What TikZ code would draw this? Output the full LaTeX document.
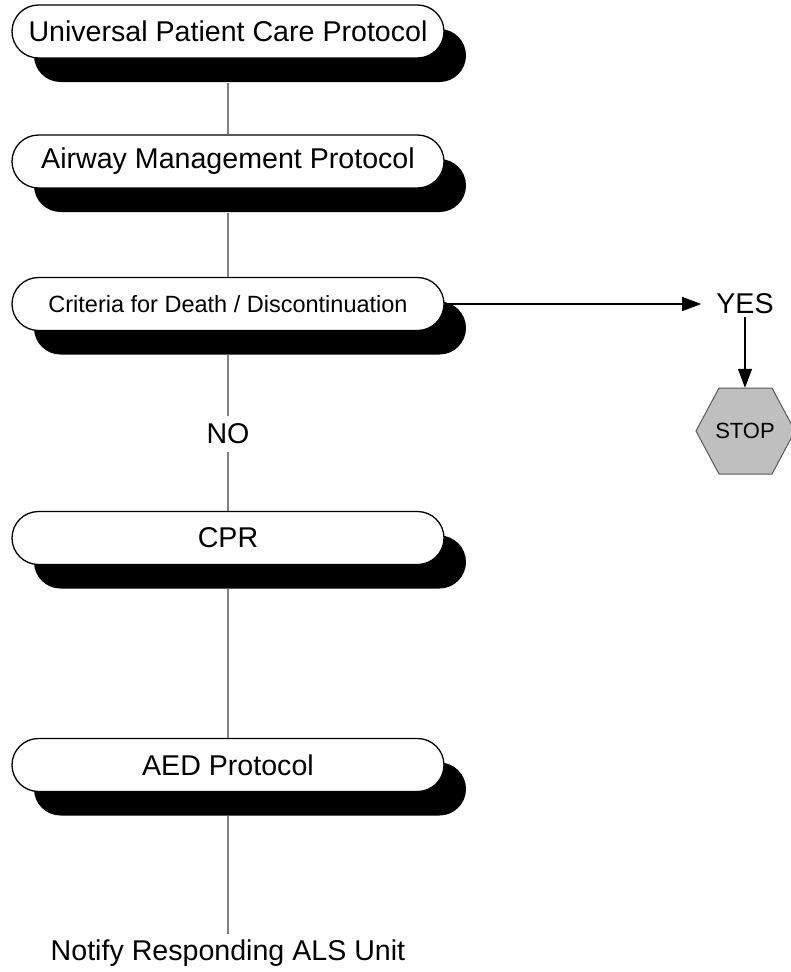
\documentclass[tikz,border=0pt]{standalone}
\usepackage{fontspec}
\setmainfont{Liberation Sans}
\usetikzlibrary{shapes.misc,shadows,arrows.meta}

\begin{document}
\begin{tikzpicture}[x=1pt,y=-1pt,
  stepbox/.style={rounded rectangle, draw=black, line width=1.3pt, fill=white,
    minimum width=432pt, minimum height=53pt, inner sep=0pt,
    font=\fontsize{28.6}{32}\selectfont,
    drop shadow={shadow xshift=22pt, shadow yshift=-24pt, fill=black, opacity=1}},
  smalltext/.style={font=\fontsize{23.5}{27}\selectfont},
  label/.style={inner sep=3pt, font=\fontsize{28.6}{32}\selectfont},
  link/.style={draw=black!50, line width=1.2pt},
  arrow/.style={draw=black, line width=1.2pt, -{Triangle[length=19pt,width=14pt]}},
  hexfill/.style={fill=black!25, draw=black!65, line width=1pt},
]
\useasboundingbox (0,0) rectangle (791,972);

% protocol steps
\node[stepbox] (b1) at (228,31.5)  {Universal Patient Care Protocol};
\node[stepbox] (b2) at (228,161.5) {Airway Management Protocol};
\node[stepbox, smalltext] (b3) at (228,304) {Criteria for Death / Discontinuation};
\node[stepbox] (b4) at (228,538) {CPR};
\node[stepbox] (b5) at (228,765) {AED Protocol};

% decision labels and final instruction
\node[label, inner ysep=8pt] (no) at (228,434) {NO};
\node[label] (yes) at (745,304) {YES};
\node[label, anchor=north, inner sep=6pt] (notify) at (228,934) {Notify Responding ALS Unit};

% stop sign
\coordinate (stopc) at (745,431);
\filldraw[hexfill] ([xshift=-49pt]stopc) -- ([xshift=-26pt,yshift=43pt]stopc)
  -- ([xshift=27pt,yshift=43pt]stopc) -- ([xshift=50pt]stopc)
  -- ([xshift=27pt,yshift=-43pt]stopc) -- ([xshift=-26pt,yshift=-43pt]stopc) -- cycle;
\node[font=\fontsize{22}{26}\selectfont, minimum height=86pt, inner sep=0pt] (stop) at (stopc) {STOP};

% connectors
\draw[link] ([yshift=-24pt]b1.south) -- (b2.north);
\draw[link] ([yshift=-24pt]b2.south) -- (b3.north);
\draw[link] ([yshift=-24pt]b3.south) -- (no.north);
\draw[link] (no.south) -- (b4.north);
\draw[link] ([yshift=-24pt]b4.south) -- (b5.north);
\draw[link] ([yshift=-24pt]b5.south) -- (notify.north);

\draw[arrow, shorten >=12pt] (b3.east) -- (yes.west);
\draw[arrow] (yes.south) -- (stop.north);
\end{tikzpicture}
\end{document}
